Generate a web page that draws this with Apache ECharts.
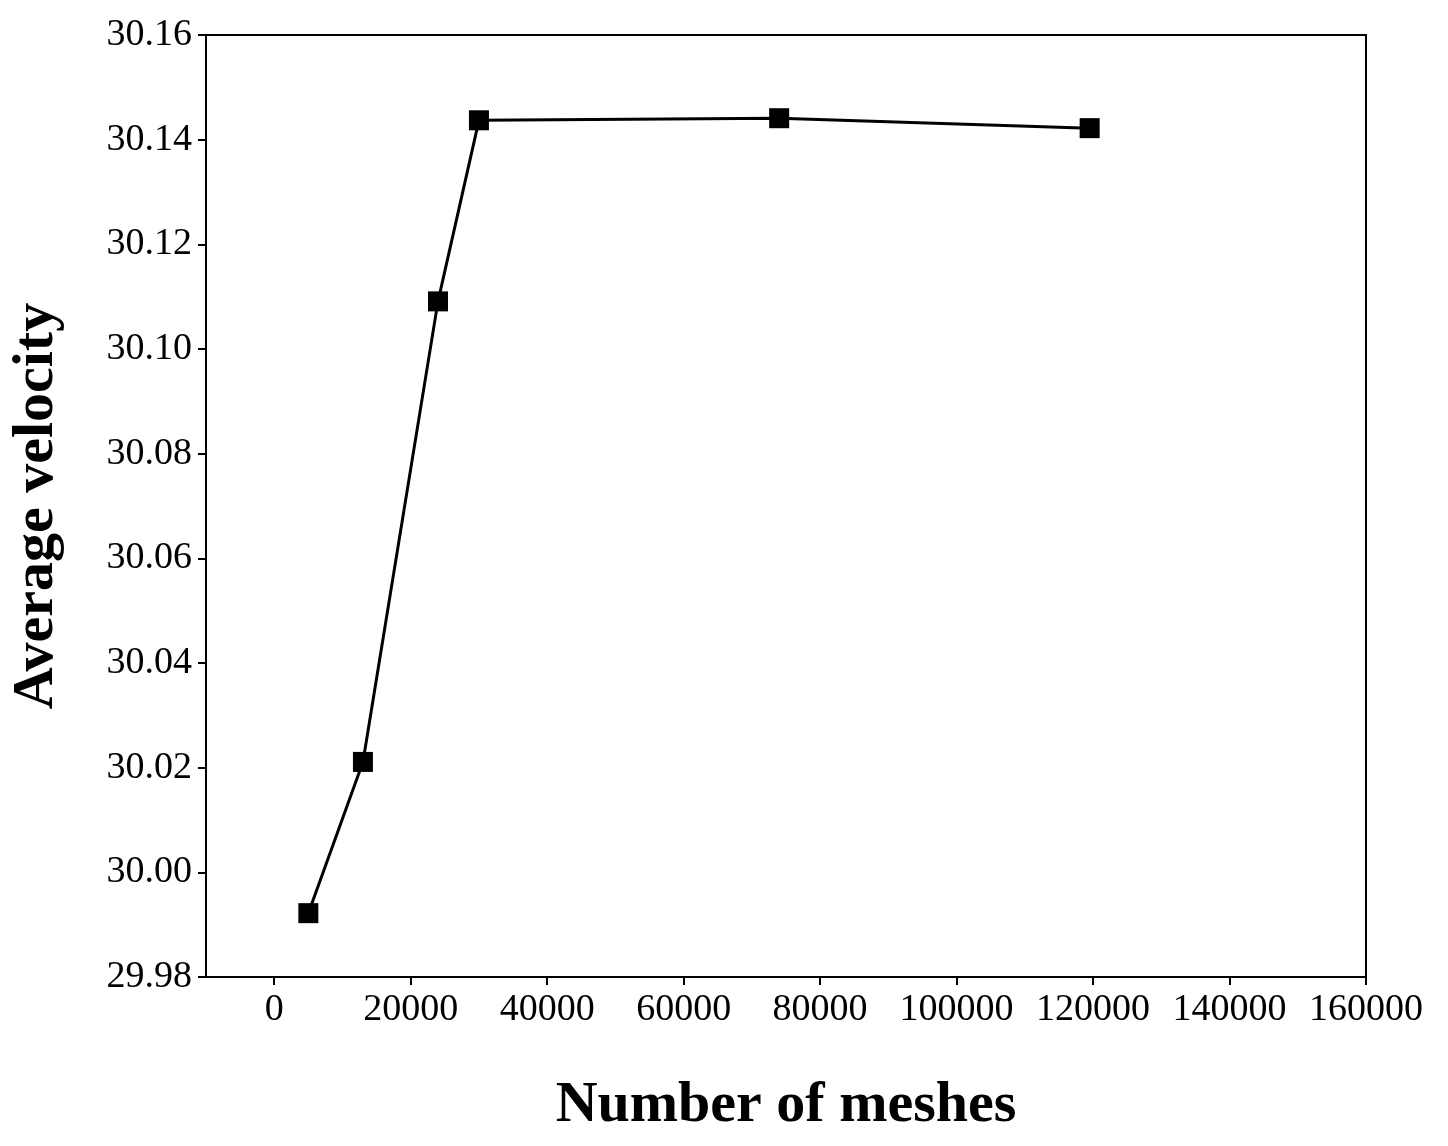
<!DOCTYPE html>
<html>
<head>
<meta charset="utf-8">
<script src="https://cdn.jsdelivr.net/npm/echarts@6/dist/echarts.min.js"></script>
<style>html,body{margin:0;padding:0;background:#fff}#chart{width:1448px;height:1146px}</style>
</head>
<body>
<div id="chart"></div>
<script>
var meshes = [5000, 13000, 24000, 30000, 74000, 119500];
var velocity = [29.9922, 30.0211, 30.1091, 30.1437, 30.1441, 30.1422];

var chart = echarts.init(document.getElementById('chart'));
var font = 'Liberation Serif, Times New Roman, serif';
var axisBase = {
  axisLine: {show: true, onZero: false, lineStyle: {color: '#000', width: 2}},
  axisTick: {show: true, inside: false, length: 8, lineStyle: {color: '#000', width: 2}},
  splitLine: {show: false},
  axisLabel: {color: '#000', fontSize: 38, fontFamily: font},
  nameTextStyle: {color: '#000', fontSize: 58, fontWeight: 'bold', fontFamily: font}
};
chart.setOption({
  backgroundColor: '#fff',
  animation: false,
  grid: {left: 200, right: 82, top: 35, bottom: 169, show: true, borderColor: '#000', borderWidth: 2},
  xAxis: Object.assign({}, axisBase, {
    type: 'value', min: -10000, max: 160000, interval: 10000,
    name: 'Number of meshes', nameLocation: 'middle', nameGap: 100,
    axisLabel: Object.assign({}, axisBase.axisLabel, {margin: 14,
      formatter: function (v) { return v % 20000 === 0 && v >= 0 ? String(v) : ''; }}),
    axisTick: Object.assign({}, axisBase.axisTick, {
      customValues: [0, 20000, 40000, 60000, 80000, 100000, 120000, 140000, 160000]})
  }),
  yAxis: Object.assign({}, axisBase, {
    type: 'value', min: 29.98, max: 30.16, interval: 0.02,
    name: 'Average velocity', nameLocation: 'middle', nameGap: 140,
    axisLabel: Object.assign({}, axisBase.axisLabel, {margin: 14,
      formatter: function (v) { return v.toFixed(2); }})
  }),
  series: [{
    type: 'line',
    data: meshes.map(function (m, i) { return [m, velocity[i]]; }),
    symbol: 'rect', symbolSize: 20,
    lineStyle: {color: '#000', width: 3},
    itemStyle: {color: '#000'}
  }]
});
</script>
</body>
</html>
